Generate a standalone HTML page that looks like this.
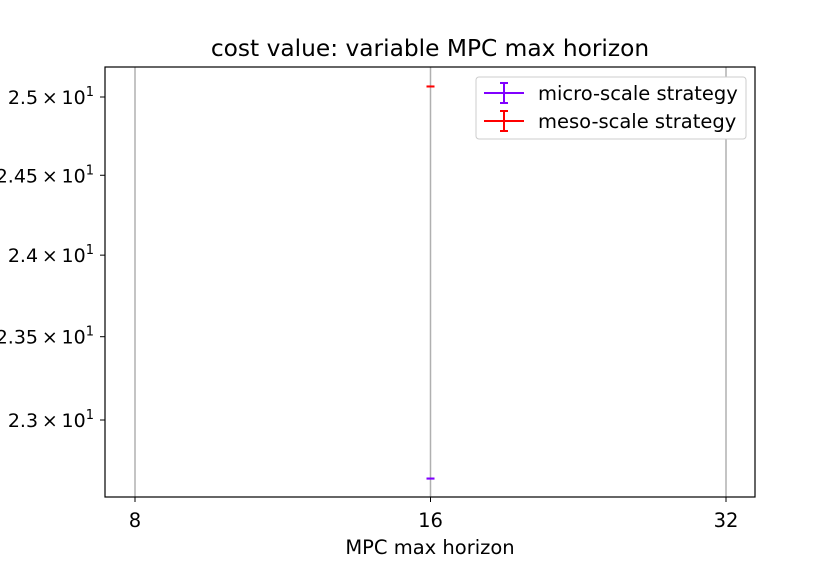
<!DOCTYPE html>
<html><head><meta charset="utf-8"><style>
body{margin:0;background:#fff}
svg text{font-family:"DejaVu Sans","Liberation Sans",sans-serif;fill:#000}
</style></head><body>
<svg id="chart" width="840" height="560" xmlns="http://www.w3.org/2000/svg">
<text x="430" y="56" font-size="23.3" text-anchor="middle">cost value: variable MPC max horizon</text>
<g id="grid"></g>
<g id="marks"></g>
<rect x="105" y="67" width="650" height="430" fill="none" stroke="#000" stroke-width="1.2"/>
<g id="axes"></g>
<text x="430" y="554" font-size="19.5" text-anchor="middle">MPC max horizon</text>
<g>
<rect x="476" y="77" width="270" height="62" rx="3" fill="#fff" stroke="#ccc"/>
<g>
<line x1="484" y1="93" x2="524" y2="93" stroke="#8000ff" stroke-width="2"/>
<line x1="504" y1="83" x2="504" y2="103" stroke="#8000ff" stroke-width="2"/>
<line x1="500" y1="83" x2="508" y2="83" stroke="#8000ff" stroke-width="2"/>
<line x1="500" y1="103" x2="508" y2="103" stroke="#8000ff" stroke-width="2"/>
<text x="538" y="100" font-size="19.5">micro-scale strategy</text></g>
<g>
<line x1="484" y1="121" x2="524" y2="121" stroke="#ff0000" stroke-width="2"/>
<line x1="504" y1="111" x2="504" y2="131" stroke="#ff0000" stroke-width="2"/>
<line x1="500" y1="111" x2="508" y2="111" stroke="#ff0000" stroke-width="2"/>
<line x1="500" y1="131" x2="508" y2="131" stroke="#ff0000" stroke-width="2"/>
<text x="538" y="128" font-size="19.5">meso-scale strategy</text></g>
</g>
</svg>
<script>
const xTicks=[8,16,32];
const yTicks=[25,24.5,24,23.5,23];
const yTickLabels=["2.5","2.45","2.4","2.35","2.3"];
const seriesNames=["micro-scale strategy","meso-scale strategy"];
const seriesColors=["#8000ff","#ff0000"];
const horizons=[16,16];
const costValues=[22.655,25.068];
const costErrors=[0,0];
const NS="http://www.w3.org/2000/svg";
function xs(v){return 135+(Math.log2(v)-3)*295.5;}
function ys(v){return 97-(Math.log10(v)-Math.log10(25))*8920;}
function mk(tag,a,p){const e=document.createElementNS(NS,tag);for(const k in a)e.setAttribute(k,a[k]);p.appendChild(e);return e;}
const grid=document.getElementById('grid'),axes=document.getElementById('axes'),marks=document.getElementById('marks');
xTicks.forEach(t=>{const x=xs(t);
const g=mk('line',{x1:x,x2:x,y1:67,y2:497,stroke:'#b0b0b0','stroke-width':1.5},grid);


mk('line',{x1:x,x2:x,y1:497,y2:502,stroke:'#000'},axes);
const tx=mk('text',{x:x,y:527,'font-size':19.5,'text-anchor':'middle'},axes);tx.textContent=t;

});
yTicks.forEach((t,i)=>{const y=ys(t);
mk('line',{x1:100,x2:105,y1:y,y2:y,stroke:'#000'},axes);
const tx=mk('text',{x:94,y:y+7,'font-size':19,'text-anchor':'end'},axes);


tx.textContent=yTickLabels[i]+'\u2009\u00d7\u200910';
const s=mk('tspan',{dy:-8,'font-size':13},tx);s.textContent='1';});
costValues.forEach((v,i)=>{const x=xs(horizons[i]);const g=mk('g',{},marks);


const y1=ys(v+costErrors[i]),y2=ys(v-costErrors[i]);
mk('line',{x1:x,x2:x,y1:y1,y2:y2,stroke:seriesColors[i],'stroke-width':2},g);
mk('line',{x1:x-4,x2:x+4,y1:y1,y2:y1,stroke:seriesColors[i],'stroke-width':2},g);
mk('line',{x1:x-4,x2:x+4,y1:y2,y2:y2,stroke:seriesColors[i],'stroke-width':2},g);});
</script>
</body></html>
